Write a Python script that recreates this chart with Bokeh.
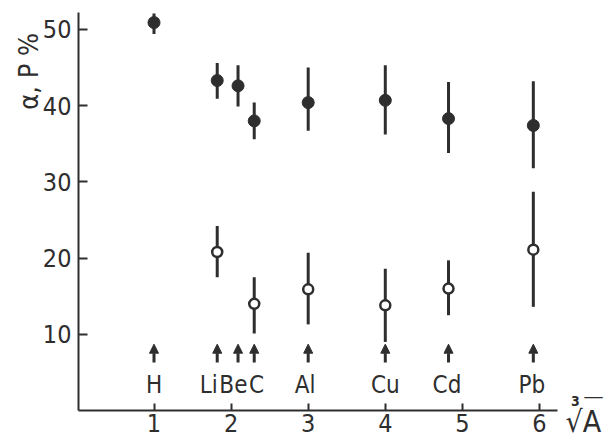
from math import pi
from bokeh.plotting import figure
from bokeh.models import Range1d, ColumnDataSource, Label, Arrow, NormalHead, FixedTicker
from bokeh.core.properties import value
from bokeh.embed import file_html
from bokeh.resources import INLINE

# --- data ---
elements = ["H", "Li", "Be", "C", "Al", "Cu", "Cd", "Pb"]
elem_x = [1.0, 1.82, 2.09, 2.30, 3.0, 4.0, 4.82, 5.92]          # A^(1/3)
label_x = [1.0, 1.71, 2.03, 2.33, 2.96, 4.0, 4.80, 5.90]         # label centres

alpha_x = [1.0, 1.82, 2.09, 2.30, 3.0, 4.0, 4.82, 5.92]
alpha_y = [50.9, 43.3, 42.6, 38.0, 40.4, 40.7, 38.3, 37.4]
alpha_lo = [49.4, 40.9, 39.9, 35.6, 36.7, 36.2, 33.8, 31.8]
alpha_hi = [52.1, 45.6, 45.3, 40.4, 45.0, 45.3, 43.1, 43.2]

p_x = [1.82, 2.30, 3.0, 4.0, 4.82, 5.92]
p_y = [20.8, 14.0, 15.9, 13.8, 16.0, 21.1]
p_lo = [17.5, 10.1, 11.3, 9.0, 12.5, 13.6]
p_hi = [24.2, 17.5, 20.7, 18.6, 19.7, 28.7]

y_ticks = [10, 20, 30, 40, 50]
x_ticks = [1, 2, 3, 4, 5, 6]

INK = "#2e2e2e"
FONT = "DejaVu Sans Condensed, DejaVu Sans"

p = figure(width=610, height=438, x_range=Range1d(-0.991, 6.921), y_range=Range1d(-3.675, 53.8),
           output_backend="svg", toolbar_location=None,
           min_border=0, min_border_left=0, min_border_right=0, min_border_top=0, min_border_bottom=0)
p.outline_line_color = None
p.grid.visible = False
p.background_fill_color = "white"
p.border_fill_color = "white"

for ax in (p.xaxis[0], p.yaxis[0]):
    ax.axis_line_color = INK
    ax.axis_line_width = 2
    ax.major_tick_line_color = INK
    ax.major_tick_line_width = 2
    ax.major_tick_out = 0
    ax.minor_tick_line_color = None
    ax.major_label_text_color = INK
    ax.major_label_text_font = FONT

p.xaxis.ticker = FixedTicker(ticks=x_ticks)
p.xaxis.fixed_location = 0
p.xaxis.bounds = (0.02, 6.23)
p.xaxis.major_tick_in = 7
p.xaxis.major_label_standoff = 4
p.xaxis.major_label_text_font_size = "25px"

p.yaxis.ticker = FixedTicker(ticks=y_ticks)
p.yaxis.fixed_location = 0.02
p.yaxis.bounds = (0, 52.2)
p.yaxis.major_tick_in = 9
p.yaxis.major_label_standoff = 7
p.yaxis.major_label_text_font_size = "25px"

# error bars
p.segment(x0=alpha_x, y0=alpha_lo, x1=alpha_x, y1=alpha_hi, line_color=INK, line_width=3)
p.segment(x0=p_x, y0=p_lo, x1=p_x, y1=p_hi, line_color=INK, line_width=3)

# markers
p.scatter(alpha_x, alpha_y, size=12, fill_color=INK, line_color=INK)
p.scatter(p_x, p_y, size=10, fill_color="white", line_color=INK, line_width=2.5)

# element arrows
arr_src = ColumnDataSource(dict(x=elem_x, y0=[6.3] * len(elem_x), y1=[8.7] * len(elem_x)))
p.add_layout(Arrow(end=NormalHead(size=9, fill_color=INK, line_color=INK),
                   x_start="x", y_start="y0", x_end="x", y_end="y1",
                   line_color=INK, line_width=3, source=arr_src))

# element labels
p.text(x=label_x, y=[3.4] * len(elements), text=elements, text_align="center",
       text_baseline="middle", text_font=value(FONT), text_font_size="24px", text_color=INK)

# axis titles
p.add_layout(Label(x=-0.628, y=44.5, text="α, P %", angle=pi / 2, text_align="center",
                   text_baseline="middle", text_font=FONT, text_font_size="27px", text_color=INK))
p.add_layout(Label(x=6.57, y=-1.45, text="√A", text_align="center",
                   text_baseline="middle", text_font=FONT, text_font_size="30px", text_color=INK))
p.add_layout(Label(x=6.467, y=1.3, text="3", text_align="center",
                   text_baseline="middle", text_font=FONT, text_font_size="14px",
                   text_font_style="bold", text_color=INK))
p.add_layout(Label(x=6.70, y=0.7, text="‾‾", text_align="center",
                   text_baseline="middle", text_font=FONT, text_font_size="20px", text_color=INK))

open("out.html", "w").write(file_html(p, INLINE))
